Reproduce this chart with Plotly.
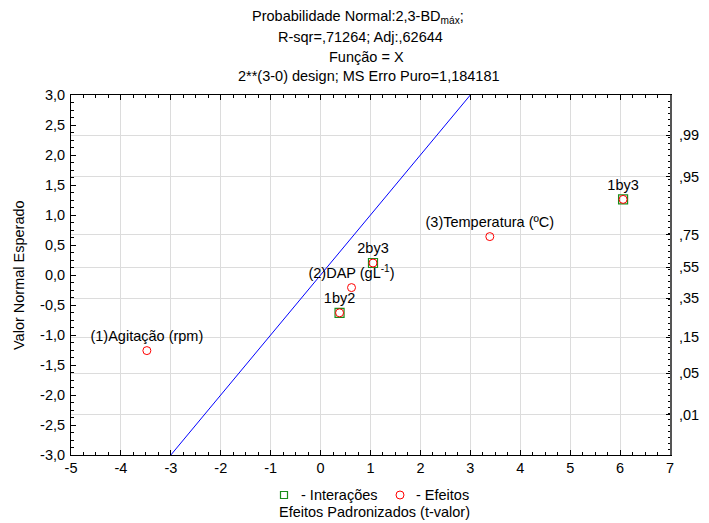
import plotly.graph_objects as go

# ---- data ----
effect_names = ["(1)Agitação (rpm)", "1by2", "(2)DAP (gL<sup>-1</sup>)", "2by3", "(3)Temperatura (ºC)", "1by3"]
effect_t = [-3.48, 0.38, 0.62, 1.05, 3.39, 6.06]
effect_z = [-1.26, -0.63, -0.21, 0.20, 0.64, 1.26]
is_interaction = [False, True, False, True, False, True]

ref_line_x = [-3, 3]
ref_line_y = [-3, 3]

x_tick_vals = [-5, -4, -3, -2, -1, 0, 1, 2, 3, 4, 5, 6, 7]
x_tick_text = ["-5", "-4", "-3", "-2", "-1", "0", "1", "2", "3", "4", "5", "6", "7"]
y_tick_vals = [-3.0, -2.5, -2.0, -1.5, -1.0, -0.5, 0.0, 0.5, 1.0, 1.5, 2.0, 2.5, 3.0]
y_tick_text = ["-3,0", "-2,5", "-2,0", "-1,5", "-1,0", "-0,5", "0,0", "0,5", "1,0", "1,5", "2,0", "2,5", "3,0"]
prob_tick_vals = [2.33, 1.64, 0.67, 0.13, -0.39, -1.04, -1.64, -2.33]
prob_tick_text = [",99", ",95", ",75", ",55", ",35", ",15", ",05", ",01"]

title_lines = [
    "Probabilidade Normal:2,3-BD<sub>máx</sub>;",
    "R-sqr=,71264; Adj:,62644",
    "Função = X",
    "2**(3-0) design; MS Erro Puro=1,184181",
]

FONT = "Liberation Sans, Arial, sans-serif"
FS = 14.5
OFF = 8  # default page body margin
W, H = 709 - OFF, 523 - OFF
L, T = 71 - OFF, 95 - OFF
PW, PH = 599, 360
R, B = W - L - PW, H - T - PH


def px(x):
    # page pixel x -> paper coordinate
    return (x - OFF - L) / PW


def py(y):
    # page pixel y -> paper coordinate
    return (T + PH - (y - OFF)) / PH


fig = go.Figure()

fig.add_trace(go.Scatter(x=ref_line_x, y=ref_line_y, mode="lines",
                         line=dict(color="#0000ff", width=1), hoverinfo="skip"))

ix = [t for t, f in zip(effect_t, is_interaction) if f]
iy = [z for z, f in zip(effect_z, is_interaction) if f]
fig.add_trace(go.Scatter(x=ix, y=iy, mode="markers",
                         marker=dict(symbol="square-open", size=9, color="#1a8c1a",
                                     line=dict(width=1.2, color="#1a8c1a"))))

fig.add_trace(go.Scatter(x=effect_t, y=effect_z, mode="markers+text",
                         text=effect_names, textposition="top center",
                         textfont=dict(family=FONT, size=FS, color="#000000"),
                         marker=dict(symbol="circle-open", size=8, color="#ff0000",
                                     line=dict(width=1, color="#ff0000"))))

fig.add_trace(go.Scatter(x=[None], y=[None], yaxis="y2", showlegend=False))

annotations = []
title_x = [358, 360, 366, 369]
title_y = [17, 37, 57, 76]
for txt, tx, ty in zip(title_lines, title_x, title_y):
    annotations.append(dict(text=txt, x=px(tx), y=py(ty), xref="paper", yref="paper",
                            showarrow=False, xanchor="center", yanchor="middle",
                            font=dict(family=FONT, size=FS, color="#000")))
annotations.append(dict(text="Valor Normal Esperado", x=px(19), y=py(275), xref="paper", yref="paper",
                        showarrow=False, textangle=-90, xanchor="center", yanchor="middle",
                        font=dict(family=FONT, size=FS, color="#000")))
annotations.append(dict(text="- Interações", x=px(299), y=py(495), xref="paper", yref="paper",
                        showarrow=False, xanchor="left", yanchor="middle",
                        font=dict(family=FONT, size=FS, color="#000")))
annotations.append(dict(text="- Efeitos", x=px(414), y=py(495), xref="paper", yref="paper",
                        showarrow=False, xanchor="left", yanchor="middle",
                        font=dict(family=FONT, size=FS, color="#000")))
annotations.append(dict(text="Efeitos Padronizados (t-valor)", x=px(374.5), y=py(512), xref="paper", yref="paper",
                        showarrow=False, xanchor="center", yanchor="middle",
                        font=dict(family=FONT, size=FS, color="#000")))

shapes = [
    dict(type="rect", xref="paper", yref="paper",
         x0=px(280.5), x1=px(287.5), y0=py(498.5), y1=py(491.5),
         line=dict(color="#1a8c1a", width=1.2)),
    dict(type="circle", xref="paper", yref="paper",
         x0=px(396), x1=px(404), y0=py(499), y1=py(491),
         line=dict(color="#ff0000", width=1)),
]

fig.update_layout(
    width=W, height=H, margin=dict(l=L, r=R, t=T, b=B, pad=0, autoexpand=False),
    paper_bgcolor="white", plot_bgcolor="white", showlegend=False,
    font=dict(family=FONT, size=FS, color="#000"),
    annotations=annotations, shapes=shapes,
    xaxis=dict(range=[-5, 7], tickmode="array", tickvals=x_tick_vals, ticktext=x_tick_text,
               automargin=False,
               showgrid=True, gridcolor="#dcdcdc", gridwidth=1, zeroline=False,
               showline=True, linecolor="#000", linewidth=1, mirror="ticks",
               ticks="inside", ticklen=5, tickcolor="#000",
               minor=dict(ticks="inside", ticklen=3, dtick=0.25, tick0=0, tickcolor="#000", showgrid=False),
               tickfont=dict(family=FONT, size=FS, color="#000")),
    yaxis=dict(range=[-3, 3], tickmode="array", tickvals=y_tick_vals, ticktext=y_tick_text,
               automargin=False, ticklabelstandoff=2,
               showgrid=False, zeroline=False,
               showline=True, linecolor="#000", linewidth=1, mirror=False,
               ticks="inside", ticklen=5, tickcolor="#000",
               minor=dict(ticks="inside", ticklen=3, dtick=0.125, tick0=0, tickcolor="#000", showgrid=False),
               tickfont=dict(family=FONT, size=FS, color="#000")),
    yaxis2=dict(range=[-3, 3], overlaying="y", side="right", tickmode="array",
                tickvals=prob_tick_vals, ticktext=prob_tick_text, automargin=False,
                ticklabelstandoff=4,
                showgrid=True, gridcolor="#dcdcdc", gridwidth=1, zeroline=False,
                showline=True, linecolor="#555", linewidth=2,
                ticks="inside", ticklen=4, tickcolor="#000",
                minor=dict(ticks="inside", ticklen=2, dtick=0.1, tick0=0, tickcolor="#000", showgrid=False),
                tickfont=dict(family=FONT, size=FS, color="#000")),
)

fig.write_html("out.html")
